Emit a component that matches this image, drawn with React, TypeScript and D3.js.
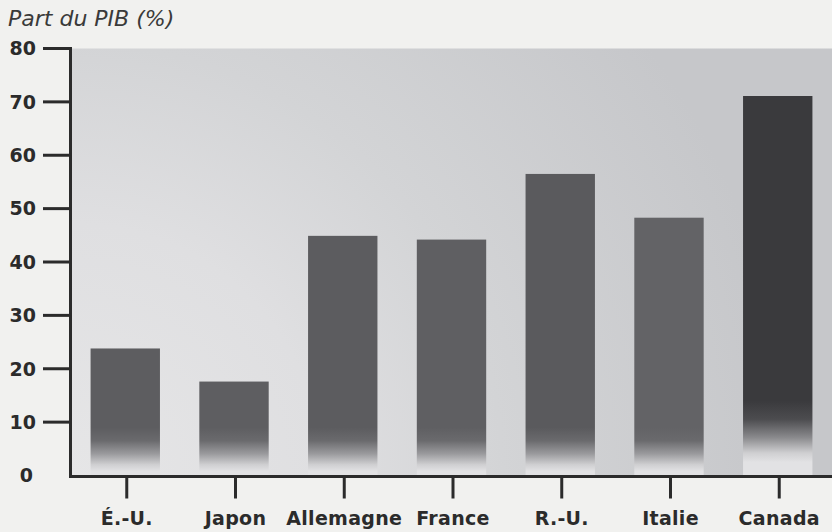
import React from "react";
import * as d3 from "d3";

// Dette publique en part du PIB, pays du G7
const pays = ["É.-U.", "Japon", "Allemagne", "France", "R.-U.", "Italie", "Canada"];
const partPIB = [23.8, 17.6, 44.9, 44.2, 56.5, 48.3, 71.1];
const graduations = [0, 10, 20, 30, 40, 50, 60, 70, 80];

const W = 832;
const H = 532;
const margin = { left: 71, right: 0, top: 48.5, bottom: 56.5 };

const FONT = "'DejaVu Sans', sans-serif";
const INK = "#2b2b2b";

// bar tint per country (Canada is darker)
const teinte: Record<string, string> = {
  "É.-U.": "#5d5d60",
  Japon: "#5e5e61",
  Allemagne: "#5c5c5f",
  France: "#5f5f62",
  "R.-U.": "#5a5a5d",
  Italie: "#636366",
  Canada: "#3a3a3d",
};

export default function App() {
  const x = d3
    .scaleBand<string>()
    .domain(pays)
    .range([margin.left, W - margin.right])
    .paddingInner(0.362)
    .paddingOuter(0.18);

  const y = d3
    .scaleLinear()
    .domain([0, 80])
    .range([H - margin.bottom, margin.top]);

  const y0 = y(0);
  const axisX = 70.5;

  return (
    <svg
      width={W}
      height={H}
      style={{ position: "absolute", left: 0, top: 0, background: "#f1f1ef" }}
    >
      <defs>
        <radialGradient
          id="fond"
          gradientUnits="userSpaceOnUse"
          cx={axisX}
          cy={y0}
          r={720}
        >
          <stop offset="0" stopColor="#e6e6e7" />
          <stop offset="0.35" stopColor="#dfdfe1" />
          <stop offset="0.6" stopColor="#d3d4d6" />
          <stop offset="1" stopColor="#c6c7ca" />
        </radialGradient>
        {pays.map((p, i) => {
          const fort = p === "Canada";
          const debut = y(fort ? 14 : 9);
          const fin = y(fort ? 2.5 : 0.8);
          return (
            <linearGradient
              key={p}
              id={`barre-${i}`}
              gradientUnits="userSpaceOnUse"
              x1={0}
              x2={0}
              y1={debut}
              y2={fin}
            >
              <stop offset="0" stopColor={teinte[p]} />
              <stop offset="0.3" stopColor={fort ? "#4c4c4f" : "#6a6a6d"} />
              <stop offset="0.6" stopColor={fort ? "#8a8a8d" : "#9a9a9d"} />
              <stop offset="0.85" stopColor="#cfcfd1" />
              <stop offset="1" stopColor="#e2e2e4" />
            </linearGradient>
          );
        })}
      </defs>

      {/* plot panel */}
      <rect
        x={axisX}
        y={y(80)}
        width={W - axisX}
        height={y0 - y(80)}
        fill="url(#fond)"
      />

      {/* bars */}
      {pays.map((p, i) => (
        <rect
          key={p}
          x={x(p)}
          y={y(partPIB[i])}
          width={x.bandwidth()}
          height={y0 - y(partPIB[i])}
          fill={`url(#barre-${i})`}
        />
      ))}

      {/* title */}
      <text
        x={8}
        y={26}
        fontFamily={FONT}
        fontStyle="italic"
        fontSize={22}
        fill="#3a3a3a"
      >
        Part du PIB (%)
      </text>

      {/* y axis */}
      <line
        x1={axisX}
        x2={axisX}
        y1={y(80) - 1.5}
        y2={y0 + 1.5}
        stroke={INK}
        strokeWidth={3}
      />
      {graduations.map((g) => (
        <g key={g}>
          {g > 0 && (
            <line
              x1={43}
              x2={axisX}
              y1={y(g)}
              y2={y(g)}
              stroke={INK}
              strokeWidth={3}
            />
          )}
          <text
            x={g === 0 ? 33 : 36}
            y={y(g)}
            dy="0.36em"
            textAnchor="end"
            fontFamily={FONT}
            fontWeight="bold"
            fontSize={19}
            fill={INK}
          >
            {g}
          </text>
        </g>
      ))}

      {/* x axis */}
      <line
        x1={axisX - 1.5}
        x2={W}
        y1={y0 + 1}
        y2={y0 + 1}
        stroke={INK}
        strokeWidth={3}
      />
      {pays.map((p) => {
        const cx = (x(p) as number) + x.bandwidth() / 2 + 1.5;
        return (
          <g key={p}>
            <line
              x1={cx}
              x2={cx}
              y1={y0 + 1}
              y2={y0 + 23}
              stroke={INK}
              strokeWidth={3}
            />
            <text
              x={cx}
              y={525}
              textAnchor="middle"
              fontFamily={FONT}
              fontWeight="bold"
              fontSize={19}
              letterSpacing={0.3}
              fill={INK}
            >
              {p}
            </text>
          </g>
        );
      })}
    </svg>
  );
}
